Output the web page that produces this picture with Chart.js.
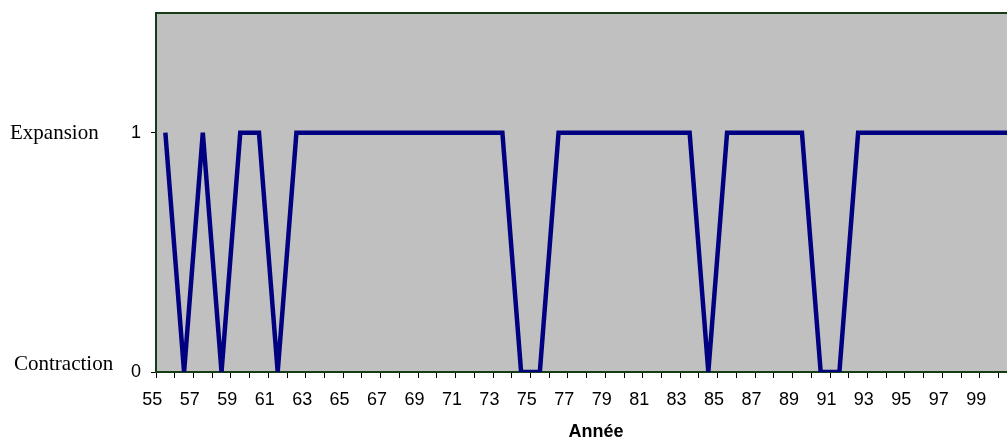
<!DOCTYPE html>
<html>
<head>
<meta charset="utf-8">
<script src="https://cdn.jsdelivr.net/npm/chart.js@4/dist/chart.umd.min.js"></script>
<style>
  body { margin: 0; background: #fff; overflow: hidden; }
  #wrap { width: 1040px; height: 439px; }
</style>
</head>
<body>
<div id="wrap"><canvas id="cycleChart" width="1040" height="439"></canvas></div>
<script>
// years 1955 -> 2001, shown as two digits
var years = ["55", "56", "57", "58", "59", "60", "61", "62", "63", "64",
  "65", "66", "67", "68", "69", "70", "71", "72", "73", "74",
  "75", "76", "77", "78", "79", "80", "81", "82", "83", "84",
  "85", "86", "87", "88", "89", "90", "91", "92", "93", "94",
  "95", "96", "97", "98", "99", "00", "01"];

// 1 = expansion, 0 = contraction
var phase = [1, 0, 1, 0, 1, 1, 0,
  1, 1, 1, 1, 1, 1, 1, 1, 1, 1, 1, 1,
  0, 0,
  1, 1, 1, 1, 1, 1, 1, 1,
  0,
  1, 1, 1, 1, 1,
  0, 0,
  1, 1, 1, 1, 1, 1, 1, 1, 1];

var yTicks = [0, 1];
var phaseNames = ["Contraction", "Expansion"];

var frameColor = "#163c16";

// grey plot area + top frame line
var plotBackground = {
  id: "plotBackground",
  beforeDraw: function (chart) {
    var a = chart.chartArea;
    var ctx = chart.ctx;
    ctx.save();
    ctx.fillStyle = "#c0c0c0";
    ctx.fillRect(a.left, a.top, a.right - a.left, a.bottom - a.top);
    ctx.strokeStyle = frameColor;
    ctx.lineWidth = 2;
    ctx.beginPath();
    ctx.moveTo(a.left, a.top);
    ctx.lineTo(a.right + 20, a.top);
    ctx.stroke();
    ctx.restore();
  }
};

// "Expansion" / "Contraction" names left of the y ticks
var phaseLabels = {
  id: "phaseLabels",
  afterDraw: function (chart) {
    var y = chart.scales.y;
    var ctx = chart.ctx;
    ctx.save();
    ctx.fillStyle = "#000";
    ctx.font = "21px 'Liberation Serif', 'Times New Roman', serif";
    ctx.textAlign = "left";
    ctx.textBaseline = "alphabetic";
    ctx.fillText(phaseNames[1], 10, y.getPixelForValue(1) + 6);
    ctx.fillText(phaseNames[0], 14, y.getPixelForValue(0) - 2);
    ctx.restore();
  }
};

var config = {
  type: "line",
  data: {
    labels: years,
    datasets: [
      {
        data: phase,
        borderColor: "#000080",
        borderWidth: 4.5,
        pointRadius: 0,
        tension: 0,
        fill: false,
      },
    ],
  },
  options: {
    responsive: false,
    animation: false,
    layout: { padding: { top: 13, right: 4, left: 0, bottom: 0 } },
    plugins: {
      legend: { display: false },
      tooltip: { enabled: false },
    },
    scales: {
      x: {
        offset: true,
        grid: {
          offset: true,
          drawOnChartArea: false,
          drawTicks: true,
          tickLength: 6,
          color: "#000",
        },
        border: { display: true, color: frameColor, width: 2 },
        ticks: {
          autoSkip: false,
          maxRotation: 0,
          padding: 11,
          labelOffset: -13,
          color: "#000",
          font: { family: "Arial, 'Liberation Sans'", size: 18 },
          callback: function (val, idx) {
            if (idx === years.length - 1) return "";
            return idx % 2 === 0 ? this.getLabelForValue(val) : "";
          },
        },
        title: {
          display: true,
          text: "Année",
          color: "#000",
          padding: { top: 0, bottom: -2 },
          font: { family: "Arial, 'Liberation Sans'", size: 18, weight: "bold", lineHeight: 1 },
        },
        afterFit: function (scale) {
          scale.height = 67;
          scale.paddingLeft = 0;
          scale.paddingRight = 0;
        },
      },
      y: {
        min: 0,
        max: 1.5,
        grid: {
          drawOnChartArea: false,
          tickLength: 5,
          color: "#000",
        },
        border: { display: true, color: frameColor, width: 2 },
        ticks: {
          padding: 10,
          color: "#000",
          font: { family: "Arial, 'Liberation Sans'", size: 18 },
        },
        afterBuildTicks: function (scale) {
          scale.ticks = yTicks.map(function (v) { return { value: v }; });
        },
        afterFit: function (scale) {
          scale.width = 156;
          scale.paddingTop = 0;
          scale.paddingBottom = 0;
        },
      },
    },
  },
  plugins: [plotBackground, phaseLabels],
};

new Chart(document.getElementById("cycleChart"), config);
</script>
</body>
</html>
